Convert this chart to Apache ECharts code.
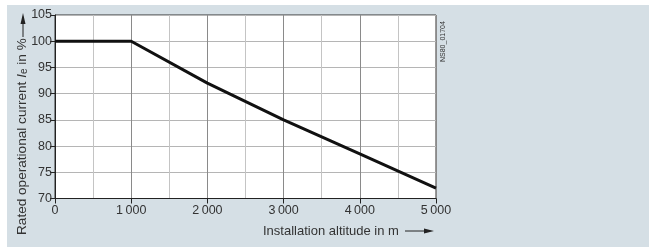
<!DOCTYPE html>
<html><head><meta charset="utf-8">
<script src="https://cdn.jsdelivr.net/npm/echarts@6/dist/echarts.min.js"></script>
<style>
html,body{margin:0;padding:0;background:#fff;}
#wrap{position:absolute;left:7px;top:5px;width:642px;height:242px;background:#d5dfe5;}
#c{position:absolute;left:0;top:0;width:649px;height:247px;}
</style></head>
<body><div id="wrap"></div><div id="c"></div>
<script>
const altitudes = [0, 1000, 2000, 3000, 4000, 5000];
const currentPct = [100, 100, 92, 85, 78.5, 72];
const xTicks = [0, 1000, 2000, 3000, 4000, 5000];
const yTicks = [70, 75, 80, 85, 90, 95, 100, 105];
const xTitle = 'Installation altitude in m';
const yTitleParts = ['Rated operational current ', 'I', 'e', ' in %'];
const docId = 'NS80_01704';

const chart = echarts.init(document.getElementById('c'), null, {renderer:'canvas'});
const FONT = 'Liberation Sans, Arial, sans-serif';
const fmtX = v => { const s = String(v); return s.length > 3 ? s.slice(0, s.length-3) + '\u2009' + s.slice(-3) : s; };

chart.setOption({
  backgroundColor: 'transparent',
  animation: false,
  grid: {left: 55, right: 213, top: 15, bottom: 48.5, show: true, backgroundColor: '#fff', borderColor: '#333', borderWidth: 1},
  xAxis: {
    type: 'value', min: xTicks[0], max: xTicks[xTicks.length-1], interval: 1000,
    axisLine: {show: true, lineStyle: {color: '#222', width: 1}},
    axisTick: {show: true, length: 5, lineStyle: {color: '#222'}},
    axisLabel: {formatter: fmtX, color: '#333', fontFamily: FONT, fontSize: 12.5, margin: 6},
    splitLine: {show: true, lineStyle: {color: '#8a8a8a', width: 1}},
    minorTick: {show: false, splitNumber: 2},
    minorSplitLine: {show: true, lineStyle: {color: '#c4c4c4', width: 1}}
  },
  yAxis: {
    type: 'value', min: yTicks[0], max: yTicks[yTicks.length-1], interval: 5,
    axisLine: {show: true, lineStyle: {color: '#222', width: 1}},
    axisTick: {show: true, length: 5, lineStyle: {color: '#222'}},
    axisLabel: {color: '#333', fontFamily: FONT, fontSize: 12.5, margin: 3},
    splitLine: {show: true, lineStyle: {color: '#b5b5b5', width: 1}}
  },
  series: [{
    type: 'line', data: altitudes.map((a,i)=>[a, currentPct[i]]),
    symbol: 'none', lineStyle: {color: '#111', width: 3}, z: 5
  }],
  graphic: [
    {type: 'text', x: 263, y: 231, style: {text: xTitle, fill: '#333', font: '13px ' + FONT, textVerticalAlign: 'middle'}},
    {type: 'line', shape: {x1: 405, y1: 231, x2: 426, y2: 231}, style: {stroke: '#222', lineWidth: 1}},
    {type: 'polygon', shape: {points: [[434,231],[424,228.5],[424,233.5]]}, style: {fill: '#222'}},
    {type: 'text', x: 22, y: 235, rotation: Math.PI/2,
      style: {
        rich: {n: {font: '13.6px ' + FONT, fill: '#333'}, i: {font: 'italic 13.6px ' + FONT, fill: '#333'}, s: {font: '10px ' + FONT, fill: '#333', verticalAlign: 'bottom', lineHeight: 8}},
        text: '{n|' + yTitleParts[0] + '}{i|' + yTitleParts[1] + '}{s|' + yTitleParts[2] + '}{n|' + yTitleParts[3] + '}',
        textVerticalAlign: 'middle'
      }},
    {type: 'line', shape: {x1: 23, y1: 37, x2: 23, y2: 24}, style: {stroke: '#222', lineWidth: 1}},
    {type: 'polygon', shape: {points: [[23,13],[20.5,24],[25.5,24]]}, style: {fill: '#222'}},
    {type: 'text', x: 443, y: 62, rotation: Math.PI/2,
      style: {text: docId, fill: '#333', font: '7px ' + FONT, textVerticalAlign: 'middle'}}
  ]
});
</script>
</body></html>
